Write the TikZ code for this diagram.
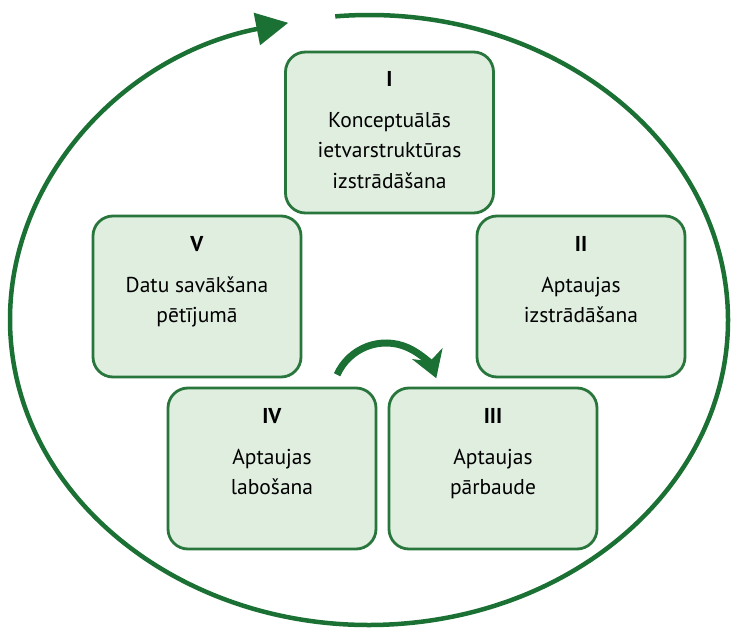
\documentclass[tikz,border=0pt]{standalone}
\usepackage{fontspec}
\setmainfont{PT Sans}
\usetikzlibrary{arrows.meta}
\definecolor{dg}{RGB}{27,112,52}
\definecolor{bd}{RGB}{40,118,60}
\definecolor{bf}{RGB}{224,238,224}
\begin{document}
\begin{tikzpicture}[x=1pt,y=-1pt,
  stepbox/.style={draw=bd, line width=2.8pt, fill=bf, rounded corners=20pt, inner sep=0pt, minimum width=208pt, minimum height=161pt},
  lbl/.style={anchor=north, align=center, font=\fontsize{21.5}{30.5}\selectfont, text=black, inner sep=0pt}]
\useasboundingbox (0,0) rectangle (734,629);
% boxes
\node[stepbox] (b1) at (389.5,132.5) {};
\node[stepbox] (b5) at (197,296.5) {};
\node[stepbox] (b2) at (581,296.5) {};
\node[stepbox] (b4) at (272,468.5) {};
\node[stepbox] (b3) at (493,468.5) {};
% labels
\node[lbl] (t1) at ([yshift=-21pt]b1.north) {\textbf{I}\\[10pt]Konceptuālās\\ietvarstruktūras\\izstrādāšana};
\node[lbl] (t5) at ([yshift=-22pt]b5.north) {\textbf{V}\\[10pt]Datu savākšana\\pētījumā};
\node[lbl] (t2) at ([yshift=-22pt]b2.north) {\textbf{II}\\[10pt]Aptaujas\\izstrādāšana};
\node[lbl] (t4) at ([yshift=-22pt]b4.north) {\textbf{IV}\\[10pt]Aptaujas\\labošana};
\node[lbl] (t3) at ([yshift=-22pt]b3.north) {\textbf{III}\\[10pt]Aptaujas\\pārbaude};
% big cycle
\begin{scope}[shift={(369,320)}, x=1pt, y=1pt]
  \coordinate (cs) at (95.4:359 and 305);
  \draw[dg, line width=4.5pt, -{Triangle[length=32pt,width=32pt]}]
    (cs) arc[start angle=95.4, end angle=-257, x radius=359, y radius=305];
\end{scope}
% small arrow
\begin{scope}[shift={(386,396.5)}, x=1pt, y=1pt]
  \coordinate (ss) at (156:53.5);
  \draw[dg, line width=7pt, -{Stealth[length=26pt,width=32pt,inset=8pt]}]
    (ss) arc[start angle=156, end angle=20, radius=53.5];
\end{scope}
\end{tikzpicture}
\end{document}
